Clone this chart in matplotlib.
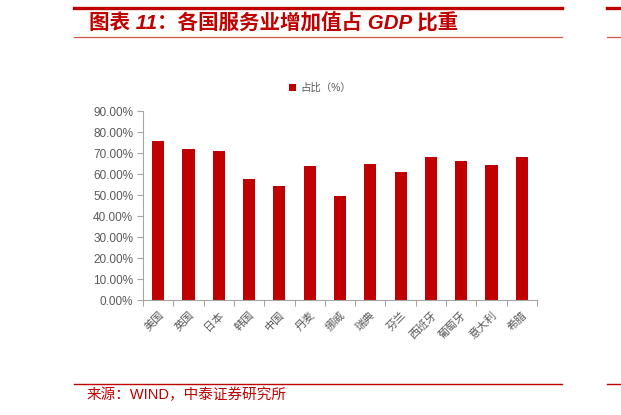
import matplotlib.pyplot as plt
from matplotlib.lines import Line2D
from matplotlib.ticker import FuncFormatter, FixedLocator

plt.rcParams['font.family'] = ['Liberation Sans', 'Noto Sans CJK SC', 'DejaVu Sans']

countries = ['美国', '英国', '日本', '韩国', '中国', '丹麦', '挪威',
             '瑞典', '芬兰', '西班牙', '葡萄牙', '意大利', '希腊']
share = [76.0, 71.9, 71.1, 57.9, 54.4, 63.8, 49.5,
         64.9, 60.9, 68.1, 66.3, 64.6, 68.1]
yticks = [0, 10, 20, 30, 40, 50, 60, 70, 80, 90]

red = '#C00000'
grey = '#595959'

W, H = 621, 415
fig = plt.figure(figsize=(W / 100, H / 100), dpi=100)

# header / footer rules
def hline(y, x0, x1, lw, color=red):
    fig.add_artist(Line2D([x0 / W, x1 / W], [1 - y / H, 1 - y / H],
                          color=color, lw=lw, transform=fig.transFigure))

hline(8, 74, 562, 2.4)
hline(8, 607, 621, 2.4)
hline(37.5, 74, 562, 0.9, '#D9534F')
hline(37.5, 607, 621, 0.9, '#D9534F')
hline(384.3, 74, 562, 1.0)
hline(384.3, 607, 621, 1.0)

fig.text(89 / W, 1 - 23 / H, '图表 11：各国服务业增加值占 GDP 比重',
         color=red, fontsize=14.8, fontweight='bold', style='italic',
         ha='left', va='center')
fig.text(87 / W, 1 - 395 / H, '来源：WIND，中泰证券研究所',
         color=red, fontsize=10.5, ha='left', va='center')

ax = fig.add_axes([143 / W, 1 - 300 / H, (537 - 143) / W, (300 - 111.4) / H])
x = list(range(len(countries)))
ax.bar(x, share, width=0.4, color=red, label='占比（%）')

ax.set_xlim(-0.5, len(countries) - 0.5)
ax.set_ylim(0, 90)
ax.set_yticks(yticks)
ax.yaxis.set_major_formatter(FuncFormatter(lambda v, p: f'{v:.2f}%'))
ax.set_xticks(x)
ax.set_xticklabels(countries, rotation=45, ha='right', rotation_mode='anchor',
                   fontsize=8, color=grey)
ax.tick_params(axis='x', length=0, pad=7)
ax.xaxis.set_minor_locator(FixedLocator([i - 0.5 for i in range(len(countries) + 1)]))
ax.tick_params(axis='x', which='minor', length=4, color='#A6A6A6', width=0.8)
ax.tick_params(axis='y', length=4, color='#A6A6A6', width=0.8,
               labelsize=8.5, labelcolor=grey, pad=3)

for s in ['top', 'right']:
    ax.spines[s].set_visible(False)
for s in ['left', 'bottom']:
    ax.spines[s].set_color('#A6A6A6')
    ax.spines[s].set_linewidth(0.8)

leg = ax.legend(loc='center', bbox_to_anchor=(320 / W, 1 - 88 / H),
                bbox_transform=fig.transFigure, frameon=False, fontsize=7.5,
                handlelength=0.7, handleheight=0.7, handletextpad=0.4)
for t in leg.get_texts():
    t.set_color(grey)

fig.savefig('out.png', dpi=100)
